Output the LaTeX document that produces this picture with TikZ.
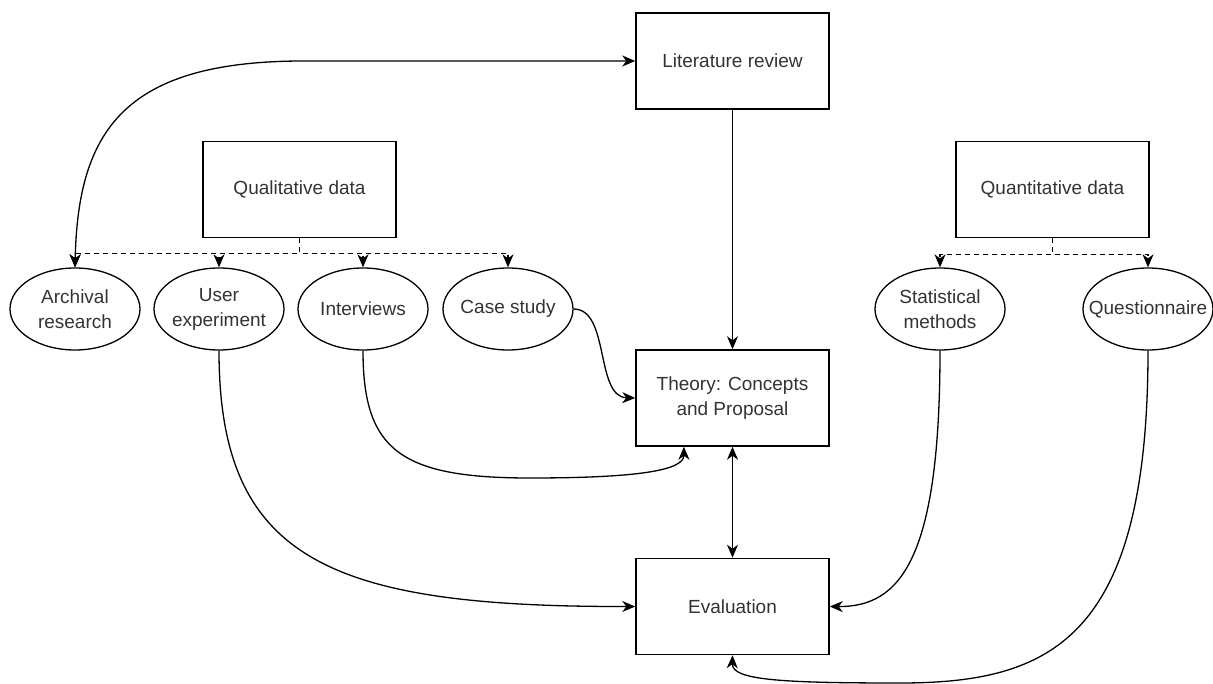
\documentclass[tikz,border=0pt]{standalone}
\usepackage{fontspec}
\setmainfont{Liberation Sans}
\usetikzlibrary{arrows.meta,shapes.geometric,calc}
\definecolor{txtc}{RGB}{51,51,51}
\begin{document}
\begin{tikzpicture}[x=1pt,y=-1pt,
  lbl/.style={font=\fontsize{19}{25}\selectfont, text=txtc, align=center},
  box/.style={draw, line width=1.5pt, minimum width=193pt, minimum height=96pt, inner sep=0pt, lbl},
  oval/.style={draw, line width=1.3pt, ellipse, minimum width=130pt, minimum height=82pt, inner sep=0pt},
  arrowtip/.style={-{Stealth[length=13pt,width=11pt,inset=4pt]}},
  conn/.style={line width=1.3pt, arrowtip},
  biconn/.style={line width=1.3pt, {Stealth[length=13pt,width=11pt,inset=4pt]}-{Stealth[length=13pt,width=11pt,inset=4pt]}},
  dconn/.style={line width=1.3pt, dash pattern=on 5pt off 4pt, arrowtip}
]
\useasboundingbox (0,0) rectangle (1213,684);

% boxes
\node[box] (lit)   at (732.5,61)  {Literature review};
\node[box] (qual)  at (299.5,189.5) {Qualitative data};
\node[box] (quant) at (1052.5,189.5) {Quantitative data};
\node[box] (theory) at (732.5,398) {Theory: Concepts\\and Proposal};
\node[box] (eval)  at (732.5,606.5) {Evaluation};

% ellipses
\node[oval, label={[lbl]center:Archival\\research}] (arch) at (75,309) {};
\node[oval, label={[lbl]center:User\\experiment}] (ue) at (219,309) {};
\node[oval, label={[lbl]center:Interviews}] (int) at (363,309) {};
\node[oval, label={[lbl]center:Case study}] (case) at (508,309) {};
\node[oval, label={[lbl]center:Statistical\\methods}] (stat) at (940,309) {};
\node[oval, label={[lbl]center:Questionnaire}] (quest) at (1148,309) {};

% dashed tree
\foreach \t in {arch,ue,int,case}
  \draw[dconn] (qual.south) -- ++(0,15) -| (\t.north);
\foreach \t in {stat,quest}
  \draw[dconn] (quant.south) -- ++(0,16) -| (\t.north);

% connectors
\draw[biconn] (arch.north) .. controls (78,130) and (125,62) .. (300,61) -- (lit.west);
\draw[conn] (lit.south) -- (theory.north);
\draw[biconn] (theory.south) -- (eval.north);
\draw[conn] (case.east) .. controls (610,309) and (595,397) .. (theory.west);
\coordinate (tb) at ($(theory.south west)!0.25!(theory.south east)$);
\draw[conn] (int.south) .. controls (363,450) and (400,478) .. (530,478)
  .. controls (640,478) and (684,470) .. (tb);
\draw[conn] (ue.south) .. controls (219,560) and (330,607) .. (eval.west);
\draw[conn] (stat.south) .. controls (940,560) and (900,607) .. (eval.east);
\draw[conn] (quest.south) .. controls (1148,640) and (1050,683) .. (900,683)
  .. controls (780,683) and (732,680) .. (eval.south);
\end{tikzpicture}
\end{document}
